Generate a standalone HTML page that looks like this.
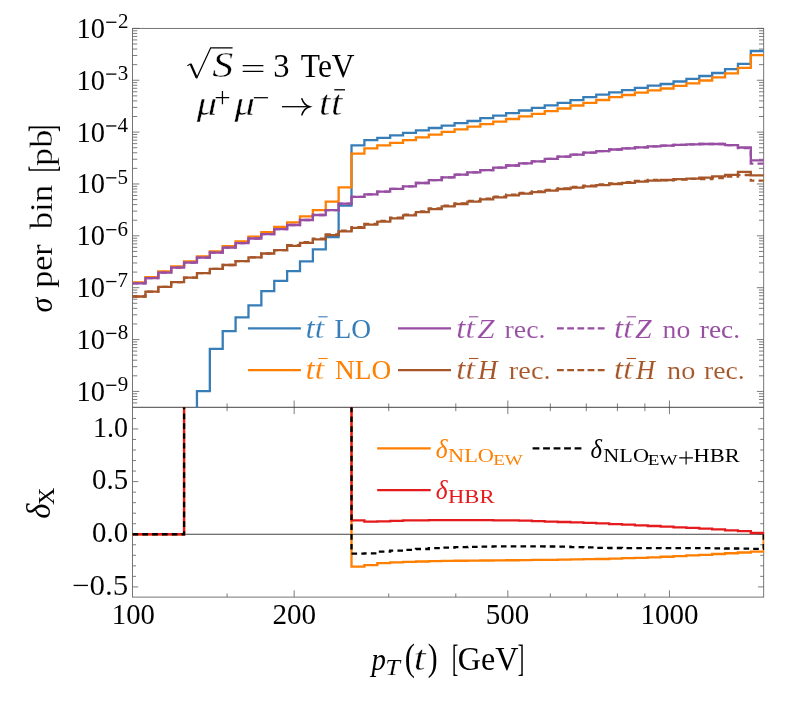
<!DOCTYPE html>
<html><head><meta charset="utf-8"><title>plot</title>
<style>html,body{margin:0;padding:0;background:#fff}svg{display:block}text{font-family:"Liberation Serif",serif}</style>
</head><body>
<svg width="797" height="707" viewBox="0 0 797 707">
<rect width="797" height="707" fill="#fff"/>
<defs><clipPath id="ct"><rect x="132.15" y="28.40" width="631.95" height="379.40"/></clipPath>
<clipPath id="cb"><rect x="132.15" y="407.30" width="631.95" height="189.80"/></clipPath></defs>
<g stroke="#7d7d7d" stroke-width="1" fill="none">
<path d="M132.55 64.65L137.25 64.65 M763.70 64.65L759.00 64.65 M132.55 55.52L137.25 55.52 M763.70 55.52L759.00 55.52 M132.55 49.04L137.25 49.04 M763.70 49.04L759.00 49.04 M132.55 44.01L137.25 44.01 M763.70 44.01L759.00 44.01 M132.55 39.91L137.25 39.91 M763.70 39.91L759.00 39.91 M132.55 36.43L137.25 36.43 M763.70 36.43L759.00 36.43 M132.55 33.43L137.25 33.43 M763.70 33.43L759.00 33.43 M132.55 30.77L137.25 30.77 M763.70 30.77L759.00 30.77 M132.55 80.26L139.35 80.26 M763.70 80.26L756.90 80.26 M132.55 116.51L137.25 116.51 M763.70 116.51L759.00 116.51 M132.55 107.38L137.25 107.38 M763.70 107.38L759.00 107.38 M132.55 100.90L137.25 100.90 M763.70 100.90L759.00 100.90 M132.55 95.87L137.25 95.87 M763.70 95.87L759.00 95.87 M132.55 91.77L137.25 91.77 M763.70 91.77L759.00 91.77 M132.55 88.29L137.25 88.29 M763.70 88.29L759.00 88.29 M132.55 85.29L137.25 85.29 M763.70 85.29L759.00 85.29 M132.55 82.63L137.25 82.63 M763.70 82.63L759.00 82.63 M132.55 132.12L139.35 132.12 M763.70 132.12L756.90 132.12 M132.55 168.37L137.25 168.37 M763.70 168.37L759.00 168.37 M132.55 159.24L137.25 159.24 M763.70 159.24L759.00 159.24 M132.55 152.76L137.25 152.76 M763.70 152.76L759.00 152.76 M132.55 147.73L137.25 147.73 M763.70 147.73L759.00 147.73 M132.55 143.63L137.25 143.63 M763.70 143.63L759.00 143.63 M132.55 140.15L137.25 140.15 M763.70 140.15L759.00 140.15 M132.55 137.15L137.25 137.15 M763.70 137.15L759.00 137.15 M132.55 134.49L137.25 134.49 M763.70 134.49L759.00 134.49 M132.55 183.98L139.35 183.98 M763.70 183.98L756.90 183.98 M132.55 220.23L137.25 220.23 M763.70 220.23L759.00 220.23 M132.55 211.10L137.25 211.10 M763.70 211.10L759.00 211.10 M132.55 204.62L137.25 204.62 M763.70 204.62L759.00 204.62 M132.55 199.59L137.25 199.59 M763.70 199.59L759.00 199.59 M132.55 195.49L137.25 195.49 M763.70 195.49L759.00 195.49 M132.55 192.01L137.25 192.01 M763.70 192.01L759.00 192.01 M132.55 189.01L137.25 189.01 M763.70 189.01L759.00 189.01 M132.55 186.35L137.25 186.35 M763.70 186.35L759.00 186.35 M132.55 235.84L139.35 235.84 M763.70 235.84L756.90 235.84 M132.55 272.09L137.25 272.09 M763.70 272.09L759.00 272.09 M132.55 262.96L137.25 262.96 M763.70 262.96L759.00 262.96 M132.55 256.48L137.25 256.48 M763.70 256.48L759.00 256.48 M132.55 251.45L137.25 251.45 M763.70 251.45L759.00 251.45 M132.55 247.35L137.25 247.35 M763.70 247.35L759.00 247.35 M132.55 243.87L137.25 243.87 M763.70 243.87L759.00 243.87 M132.55 240.87L137.25 240.87 M763.70 240.87L759.00 240.87 M132.55 238.21L137.25 238.21 M763.70 238.21L759.00 238.21 M132.55 287.70L139.35 287.70 M763.70 287.70L756.90 287.70 M132.55 323.95L137.25 323.95 M763.70 323.95L759.00 323.95 M132.55 314.82L137.25 314.82 M763.70 314.82L759.00 314.82 M132.55 308.34L137.25 308.34 M763.70 308.34L759.00 308.34 M132.55 303.31L137.25 303.31 M763.70 303.31L759.00 303.31 M132.55 299.21L137.25 299.21 M763.70 299.21L759.00 299.21 M132.55 295.73L137.25 295.73 M763.70 295.73L759.00 295.73 M132.55 292.73L137.25 292.73 M763.70 292.73L759.00 292.73 M132.55 290.07L137.25 290.07 M763.70 290.07L759.00 290.07 M132.55 339.56L139.35 339.56 M763.70 339.56L756.90 339.56 M132.55 375.81L137.25 375.81 M763.70 375.81L759.00 375.81 M132.55 366.68L137.25 366.68 M763.70 366.68L759.00 366.68 M132.55 360.20L137.25 360.20 M763.70 360.20L759.00 360.20 M132.55 355.17L137.25 355.17 M763.70 355.17L759.00 355.17 M132.55 351.07L137.25 351.07 M763.70 351.07L759.00 351.07 M132.55 347.59L137.25 347.59 M763.70 347.59L759.00 347.59 M132.55 344.59L137.25 344.59 M763.70 344.59L759.00 344.59 M132.55 341.93L137.25 341.93 M763.70 341.93L759.00 341.93 M132.55 391.42L139.35 391.42 M763.70 391.42L756.90 391.42 M132.55 402.93L137.25 402.93 M763.70 402.93L759.00 402.93 M132.55 399.45L137.25 399.45 M763.70 399.45L759.00 399.45 M132.55 396.45L137.25 396.45 M763.70 396.45L759.00 396.45 M132.55 393.79L137.25 393.79 M763.70 393.79L759.00 393.79 M132.55 28.40L139.35 28.40 M763.70 28.40L756.90 28.40 M294.17 400.50L294.17 414.10 M294.17 597.10L294.17 590.30 M507.83 400.50L507.83 414.10 M507.83 597.10L507.83 590.30 M669.45 400.50L669.45 414.10 M669.45 597.10L669.45 590.30 M227.09 403.40L227.09 411.20 M227.09 597.10L227.09 593.40 M388.72 403.40L388.72 411.20 M388.72 597.10L388.72 593.40 M455.80 403.40L455.80 411.20 M455.80 597.10L455.80 593.40 M550.34 403.40L550.34 411.20 M550.34 597.10L550.34 593.40 M586.28 403.40L586.28 411.20 M586.28 597.10L586.28 593.40 M617.42 403.40L617.42 411.20 M617.42 597.10L617.42 593.40 M644.88 403.40L644.88 411.20 M644.88 597.10L644.88 593.40 M132.55 586.90L138.25 586.90 M763.70 586.90L758.00 586.90 M132.55 576.37L136.05 576.37 M763.70 576.37L760.20 576.37 M132.55 565.84L136.05 565.84 M763.70 565.84L760.20 565.84 M132.55 555.31L136.05 555.31 M763.70 555.31L760.20 555.31 M132.55 544.78L136.05 544.78 M763.70 544.78L760.20 544.78 M132.55 534.25L138.25 534.25 M763.70 534.25L758.00 534.25 M132.55 523.72L136.05 523.72 M763.70 523.72L760.20 523.72 M132.55 513.19L136.05 513.19 M763.70 513.19L760.20 513.19 M132.55 502.66L136.05 502.66 M763.70 502.66L760.20 502.66 M132.55 492.13L136.05 492.13 M763.70 492.13L760.20 492.13 M132.55 481.60L138.25 481.60 M763.70 481.60L758.00 481.60 M132.55 471.07L136.05 471.07 M763.70 471.07L760.20 471.07 M132.55 460.54L136.05 460.54 M763.70 460.54L760.20 460.54 M132.55 450.01L136.05 450.01 M763.70 450.01L760.20 450.01 M132.55 439.48L136.05 439.48 M763.70 439.48L760.20 439.48 M132.55 428.95L138.25 428.95 M763.70 428.95L758.00 428.95 M132.55 418.42L136.05 418.42 M763.70 418.42L760.20 418.42"/>
</g>
<g stroke="#5e5e5e" stroke-width="0.85" fill="none">
<rect x="132.55" y="28.40" width="631.15" height="568.70"/>
</g>
<line x1="132.55" y1="407.30" x2="763.70" y2="407.30" stroke="#444" stroke-width="1"/>
<g clip-path="url(#ct)" fill="none" stroke-width="2.3" stroke-linejoin="miter">
<path stroke="#377eb8" d="M196.95 412.30 L196.95 391.20 H209.83 V348.90 H222.71 V331.10 H235.59 V317.30 H248.48 V305.40 H261.36 V291.10 H274.24 V280.90 H287.12 V271.20 H300.00 V261.30 H312.88 V249.40 H325.76 V237.00 H338.64 V205.70 H351.52 V145.30 H364.40 V140.20 H377.28 V137.80 H390.16 V135.40 H403.04 V132.90 H415.92 V130.40 H428.80 V128.00 H441.68 V125.70 H454.57 V123.20 H467.45 V121.00 H480.33 V118.20 H493.21 V115.60 H506.09 V113.10 H518.97 V110.50 H531.85 V107.90 H544.73 V105.40 H557.61 V102.80 H570.49 V100.20 H583.37 V97.20 H596.25 V94.70 H609.13 V92.30 H622.01 V90.10 H634.89 V87.90 H647.77 V85.70 H660.66 V84.00 H673.54 V81.50 H686.42 V78.90 H699.30 V76.00 H712.18 V73.00 H725.06 V69.20 H737.94 V63.90 H750.82 V51.00 H763.70"/>
<path stroke="#ff7f00" d="M132.55 282.30 H145.43 V277.20 H158.31 V271.50 H171.19 V266.40 H184.07 V261.40 H196.95 V256.30 H209.83 V251.30 H222.71 V246.20 H235.59 V241.50 H248.48 V236.70 H261.36 V232.10 H274.24 V227.00 H287.12 V222.40 H300.00 V216.40 H312.88 V210.10 H325.76 V201.60 H338.64 V187.30 H351.52 V153.70 H364.40 V148.30 H377.28 V145.30 H390.16 V142.80 H403.04 V140.20 H415.92 V137.30 H428.80 V134.60 H441.68 V131.90 H454.57 V129.30 H467.45 V126.70 H480.33 V124.20 H493.21 V121.60 H506.09 V119.00 H518.97 V116.40 H531.85 V113.90 H544.73 V111.20 H557.61 V108.50 H570.49 V105.50 H583.37 V102.80 H596.25 V100.00 H609.13 V97.20 H622.01 V95.00 H634.89 V92.70 H647.77 V90.30 H660.66 V88.50 H673.54 V85.80 H686.42 V83.40 H699.30 V80.50 H712.18 V77.40 H725.06 V73.40 H737.94 V67.80 H750.82 V55.10 H763.70"/>
<path stroke="#984ea3" d="M132.55 283.30 H145.43 V278.20 H158.31 V272.60 H171.19 V267.60 H184.07 V262.60 H196.95 V257.60 H209.83 V252.70 H222.71 V247.70 H235.59 V243.10 H248.48 V238.50 H261.36 V234.10 H274.24 V229.20 H287.12 V225.00 H300.00 V220.00 H312.88 V215.00 H325.76 V210.10 H338.64 V203.60 H351.52 V196.80 H364.40 V194.30 H377.28 V191.70 H390.16 V188.90 H403.04 V186.30 H415.92 V183.00 H428.80 V180.20 H441.68 V177.40 H454.57 V174.70 H467.45 V172.30 H480.33 V170.10 H493.21 V167.70 H506.09 V165.50 H518.97 V163.40 H531.85 V161.40 H544.73 V158.80 H557.61 V156.70 H570.49 V154.70 H583.37 V152.70 H596.25 V151.10 H609.13 V149.50 H622.01 V148.30 H634.89 V147.30 H647.77 V146.30 H660.66 V145.60 H673.54 V144.90 H686.42 V144.30 H699.30 V144.00 H712.18 V144.00 H725.06 V145.20 H737.94 V147.50 H750.82 V160.40 H763.70"/>
<path stroke="#a65628" d="M132.55 296.50 H145.43 V291.70 H158.31 V286.90 H171.19 V282.20 H184.07 V277.60 H196.95 V273.20 H209.83 V268.80 H222.71 V265.00 H235.59 V261.20 H248.48 V257.30 H261.36 V253.50 H274.24 V250.10 H287.12 V245.90 H300.00 V242.80 H312.88 V239.40 H325.76 V235.20 H338.64 V231.30 H351.52 V227.90 H364.40 V224.60 H377.28 V221.60 H390.16 V218.40 H403.04 V215.40 H415.92 V212.10 H428.80 V209.10 H441.68 V206.30 H454.57 V204.00 H467.45 V201.60 H480.33 V199.40 H493.21 V197.40 H506.09 V195.40 H518.97 V193.70 H531.85 V192.10 H544.73 V190.60 H557.61 V189.00 H570.49 V187.70 H583.37 V186.30 H596.25 V185.10 H609.13 V184.00 H622.01 V182.80 H634.89 V181.60 H647.77 V180.60 H660.66 V180.00 H673.54 V179.20 H686.42 V178.60 H699.30 V177.70 H712.18 V176.30 H725.06 V174.90 H737.94 V171.90 H750.82 V175.30 H763.70"/>
<path stroke="#984ea3" stroke-dasharray="5.6 4.2" d="M132.55 283.30 H145.43 V278.20 H158.31 V272.60 H171.19 V267.60 H184.07 V262.60 H196.95 V257.60 H209.83 V252.70 H222.71 V247.70 H235.59 V243.10 H248.48 V238.50 H261.36 V234.10 H274.24 V229.20 H287.12 V225.00 H300.00 V220.00 H312.88 V215.00 H325.76 V210.10 H338.64 V203.60 H351.52 V196.80 H364.40 V194.30 H377.28 V191.70 H390.16 V188.90 H403.04 V186.30 H415.92 V183.00 H428.80 V180.20 H441.68 V177.40 H454.57 V174.70 H467.45 V172.30 H480.33 V170.10 H493.21 V167.70 H506.09 V165.50 H518.97 V163.40 H531.85 V161.40 H544.73 V158.80 H557.61 V156.70 H570.49 V154.70 H583.37 V152.70 H596.25 V151.10 H609.13 V149.50 H622.01 V148.30 H634.89 V147.30 H647.77 V146.30 H660.66 V145.60 H673.54 V144.90 H686.42 V144.30 H699.30 V144.00 H712.18 V144.00 H725.06 V145.20 H737.94 V148.20 H750.82 V163.70 H763.70"/>
<path stroke="#a65628" stroke-dasharray="5.6 4.2" d="M132.55 296.50 H145.43 V291.70 H158.31 V286.90 H171.19 V282.20 H184.07 V277.60 H196.95 V273.20 H209.83 V268.80 H222.71 V265.00 H235.59 V261.20 H248.48 V257.30 H261.36 V253.50 H274.24 V250.10 H287.12 V245.20 H300.00 V242.10 H312.88 V238.70 H325.76 V234.50 H338.64 V230.60 H351.52 V227.20 H364.40 V223.90 H377.28 V220.90 H390.16 V217.70 H403.04 V214.70 H415.92 V211.40 H428.80 V208.40 H441.68 V205.60 H454.57 V203.30 H467.45 V200.90 H480.33 V198.70 H493.21 V196.70 H506.09 V194.70 H518.97 V193.00 H531.85 V191.40 H544.73 V189.90 H557.61 V188.30 H570.49 V187.00 H583.37 V185.60 H596.25 V184.40 H609.13 V183.30 H622.01 V182.10 H634.89 V180.90 H647.77 V179.90 H660.66 V180.30 H673.54 V179.50 H686.42 V178.90 H699.30 V179.20 H712.18 V178.00 H725.06 V176.70 H737.94 V175.00 H750.82 V180.70 H763.70"/>
</g>
<line x1="132.55" y1="534.25" x2="763.70" y2="534.25" stroke="#444" stroke-width="1"/>
<g clip-path="url(#cb)" fill="none" stroke-width="2.3" stroke-linejoin="miter">
<path stroke="#ff7f00" d="M132.55 534.25 H184.07 V377.30 M351.52 377.30 V566.70 H364.40 V565.20 H377.28 V563.20 H390.16 V562.40 H403.04 V561.90 H415.92 V561.50 H428.80 V561.10 H441.68 V560.90 H454.57 V560.77 H467.45 V560.65 H480.33 V560.52 H493.21 V560.40 H506.09 V560.25 H518.97 V560.10 H531.85 V559.95 H544.73 V559.80 H557.61 V559.60 H570.49 V559.40 H583.37 V559.20 H596.25 V559.00 H609.13 V558.60 H622.01 V558.20 H634.89 V557.80 H647.77 V557.40 H660.66 V556.75 H673.54 V556.10 H686.42 V555.45 H699.30 V554.80 H712.18 V554.02 H725.06 V553.25 H737.94 V552.48 H750.82 V551.70 H763.70 V534.25"/>
<path stroke="#e41a1c" d="M132.55 534.25 H184.07 V377.30 M351.52 377.30 V520.30 H364.40 V521.70 H377.28 V521.30 H390.16 V520.80 H403.04 V520.40 H415.92 V520.30 H428.80 V520.20 H441.68 V520.20 H454.57 V520.20 H467.45 V520.20 H480.33 V520.20 H493.21 V520.30 H506.09 V520.40 H518.97 V520.70 H531.85 V521.13 H544.73 V521.57 H557.61 V522.00 H570.49 V522.47 H583.37 V522.93 H596.25 V523.40 H609.13 V524.05 H622.01 V524.70 H634.89 V525.35 H647.77 V526.00 H660.66 V526.65 H673.54 V527.30 H686.42 V527.95 H699.30 V528.60 H712.18 V529.47 H725.06 V530.33 H737.94 V531.20 H750.82 V533.00 H763.70 V534.25"/>
<path stroke="#000" stroke-dasharray="5.6 4.2" d="M132.55 534.25 H184.07 V377.30 M351.52 377.30 V553.70 H364.40 V553.40 H377.28 V551.60 H390.16 V550.60 H403.04 V549.80 H415.92 V549.00 H428.80 V548.20 H441.68 V547.60 H454.57 V547.20 H467.45 V546.80 H480.33 V546.55 H493.21 V546.30 H506.09 V546.30 H518.97 V546.30 H531.85 V546.40 H544.73 V546.50 H557.61 V546.60 H570.49 V547.03 H583.37 V547.47 H596.25 V547.90 H609.13 V548.00 H622.01 V548.10 H634.89 V548.12 H647.77 V548.13 H660.66 V548.15 H673.54 V548.17 H686.42 V548.18 H699.30 V548.20 H712.18 V548.35 H725.06 V548.50 H737.94 V548.65 H750.82 V548.80 H763.70 V534.25"/>
</g>
<line x1="106.2" y1="22.25" x2="116.4" y2="22.25" stroke="#000" stroke-width="1.3"/>
<line x1="106.2" y1="74.11" x2="116.4" y2="74.11" stroke="#000" stroke-width="1.3"/>
<line x1="106.2" y1="125.97" x2="116.4" y2="125.97" stroke="#000" stroke-width="1.3"/>
<line x1="106.2" y1="177.83" x2="116.4" y2="177.83" stroke="#000" stroke-width="1.3"/>
<line x1="106.2" y1="229.69" x2="116.4" y2="229.69" stroke="#000" stroke-width="1.3"/>
<line x1="106.2" y1="281.55" x2="116.4" y2="281.55" stroke="#000" stroke-width="1.3"/>
<line x1="106.2" y1="333.41" x2="116.4" y2="333.41" stroke="#000" stroke-width="1.3"/>
<line x1="106.2" y1="385.27" x2="116.4" y2="385.27" stroke="#000" stroke-width="1.3"/>
<g fill="none" stroke-width="2.3">
<line x1="248" y1="328.4" x2="300.9" y2="328.4" stroke="#377eb8"/>
<line x1="248" y1="370.1" x2="300.9" y2="370.1" stroke="#ff7f00"/>
<line x1="398" y1="328.4" x2="451" y2="328.4" stroke="#984ea3"/>
<line x1="398" y1="370.1" x2="451" y2="370.1" stroke="#a65628"/>
<line x1="557" y1="328.4" x2="604.7" y2="328.4" stroke="#984ea3" stroke-dasharray="6.8 3.4"/>
<line x1="557" y1="370.1" x2="604.7" y2="370.1" stroke="#a65628" stroke-dasharray="6.8 3.4"/>
<line x1="377.2" y1="448.4" x2="430.7" y2="448.4" stroke="#ff7f00"/>
<line x1="377.2" y1="490.1" x2="430.7" y2="490.1" stroke="#e41a1c"/>
<line x1="532.6" y1="448.4" x2="581.7" y2="448.4" stroke="#000" stroke-dasharray="6.8 3.7"/>
</g>
<line x1="318.30" y1="316.80" x2="327.60" y2="316.80" stroke="#377eb8" stroke-width="1.1"/>
<line x1="469.00" y1="316.80" x2="478.30" y2="316.80" stroke="#984ea3" stroke-width="1.1"/>
<line x1="626.70" y1="316.80" x2="636.00" y2="316.80" stroke="#984ea3" stroke-width="1.1"/>
<line x1="318.30" y1="358.50" x2="327.60" y2="358.50" stroke="#ff7f00" stroke-width="1.1"/>
<line x1="469.00" y1="358.50" x2="478.30" y2="358.50" stroke="#a65628" stroke-width="1.1"/>
<line x1="626.70" y1="358.50" x2="636.00" y2="358.50" stroke="#a65628" stroke-width="1.1"/>
<path d="M679.2 457.9H693M686.1 451.2V464.6" stroke="#000" stroke-width="1.15" fill="none"/>
<g stroke="#000" fill="none">
<path d="M187.3 65.9L190.6 63.7" stroke-width="1.1"/>
<path d="M190.6 63.9L196.6 77.6" stroke-width="2.3"/>
<path d="M196.5 78.6L210.7 47.8H232.6" stroke-width="1.25" stroke-linejoin="miter"/>
<path d="M242.7 65.7H263.4M242.7 71.4H263.4" stroke-width="1.3"/>
<path d="M215.7 97.7H229.2M222.45 91V104.3" stroke-width="1.25"/>
<path d="M253.9 97.7H267.9" stroke-width="1.25"/>
<path d="M282 106.7H309.3" stroke-width="1.3"/>
<path d="M301.9 98.7C303.2 103.0 305.8 105.6 309.8 106.7C305.8 107.8 303.2 110.4 301.9 114.9" stroke-width="1.5" stroke-linecap="round"/>
<path d="M334.3 89.8H345" stroke-width="1.3"/>
</g>
<g style="will-change:transform">
<text transform="translate(76.48,37.85) scale(0.9801,1.000)" style="font-size:29px;font-family:'Liberation Serif',serif" fill="#000">10</text>
<text transform="translate(117.94,28.15) scale(1.0000,1.000)" style="font-size:21px;font-family:'Liberation Serif',serif" fill="#000">2</text>
<text transform="translate(76.48,89.71) scale(0.9801,1.000)" style="font-size:29px;font-family:'Liberation Serif',serif" fill="#000">10</text>
<text transform="translate(117.87,80.01) scale(1.0000,1.000)" style="font-size:21px;font-family:'Liberation Serif',serif" fill="#000">3</text>
<text transform="translate(76.48,141.57) scale(0.9801,1.000)" style="font-size:29px;font-family:'Liberation Serif',serif" fill="#000">10</text>
<text transform="translate(117.54,131.87) scale(1.0000,1.000)" style="font-size:21px;font-family:'Liberation Serif',serif" fill="#000">4</text>
<text transform="translate(76.48,193.43) scale(0.9801,1.000)" style="font-size:29px;font-family:'Liberation Serif',serif" fill="#000">10</text>
<text transform="translate(117.58,183.73) scale(1.0000,1.000)" style="font-size:21px;font-family:'Liberation Serif',serif" fill="#000">5</text>
<text transform="translate(76.48,245.29) scale(0.9801,1.000)" style="font-size:29px;font-family:'Liberation Serif',serif" fill="#000">10</text>
<text transform="translate(117.51,235.59) scale(1.0000,1.000)" style="font-size:21px;font-family:'Liberation Serif',serif" fill="#000">6</text>
<text transform="translate(76.48,297.15) scale(0.9801,1.000)" style="font-size:29px;font-family:'Liberation Serif',serif" fill="#000">10</text>
<text transform="translate(117.61,287.45) scale(1.0000,1.000)" style="font-size:21px;font-family:'Liberation Serif',serif" fill="#000">7</text>
<text transform="translate(76.48,349.01) scale(0.9801,1.000)" style="font-size:29px;font-family:'Liberation Serif',serif" fill="#000">10</text>
<text transform="translate(117.86,339.31) scale(1.0000,1.000)" style="font-size:21px;font-family:'Liberation Serif',serif" fill="#000">8</text>
<text transform="translate(76.48,400.87) scale(0.9801,1.000)" style="font-size:29px;font-family:'Liberation Serif',serif" fill="#000">10</text>
<text transform="translate(117.87,391.17) scale(1.0000,1.000)" style="font-size:21px;font-family:'Liberation Serif',serif" fill="#000">9</text>
<text transform="translate(93.02,436.55) scale(0.9663,1.000)" style="font-size:29px;font-family:'Liberation Serif',serif" fill="#000">1.0</text>
<text transform="translate(92.06,489.20) scale(0.9942,1.000)" style="font-size:29px;font-family:'Liberation Serif',serif" fill="#000">0.5</text>
<text transform="translate(92.06,541.85) scale(0.9937,1.000)" style="font-size:29px;font-family:'Liberation Serif',serif" fill="#000">0.0</text>
<text transform="translate(72.00,594.50) scale(1.0729,1.000)" style="font-size:29px;font-family:'Liberation Serif',serif" fill="#000" stroke="#fff" stroke-width="0.11">−0.5</text>
<text transform="translate(111.86,623.60) scale(0.9895,1.000)" style="font-size:29px;font-family:'Liberation Serif',serif" fill="#000">100</text>
<text transform="translate(272.45,623.60) scale(1.0039,1.000)" style="font-size:29px;font-family:'Liberation Serif',serif" fill="#000">200</text>
<text transform="translate(485.83,623.60) scale(1.0000,1.000)" style="font-size:29px;font-family:'Liberation Serif',serif" fill="#000">500</text>
<text transform="translate(640.43,623.60) scale(1.0000,1.000)" style="font-size:29px;font-family:'Liberation Serif',serif" fill="#000">1000</text>
<text transform="translate(51.60,312.59) rotate(-90) scale(0.9753,1.000)" style="font-size:31px;font-family:'Liberation Serif',serif;font-style:italic" fill="#000">σ</text>
<text transform="translate(51.60,287.73) rotate(-90) scale(1.0972,1.000)" style="font-size:31px;font-family:'Liberation Serif',serif" fill="#000" stroke="#fff" stroke-width="0.16">per</text>
<text transform="translate(51.60,229.34) rotate(-90) scale(1.1259,1.000)" style="font-size:31px;font-family:'Liberation Serif',serif" fill="#000" stroke="#fff" stroke-width="0.20">bin</text>
<text transform="translate(55.43,172.13) rotate(-90) scale(0.6282,1.219)" style="font-size:31px;font-family:'Liberation Serif',serif" fill="#000">[</text>
<text transform="translate(51.60,165.88) rotate(-90) scale(1.1740,1.000)" style="font-size:31px;font-family:'Liberation Serif',serif" fill="#000" stroke="#fff" stroke-width="0.28">pb</text>
<text transform="translate(55.43,131.91) rotate(-90) scale(0.6732,1.218)" style="font-size:31px;font-family:'Liberation Serif',serif" fill="#000">]</text>
<text transform="translate(49.50,518.82) rotate(-90) scale(0.9849,1.000)" style="font-size:33px;font-family:'Liberation Serif',serif;font-style:italic" fill="#000">δ</text>
<text transform="translate(54.10,505.01) rotate(-90) scale(1.0570,1.000)" style="font-size:23px;font-family:'Liberation Serif',serif" fill="#000">X</text>
<text transform="translate(371.53,670.20) scale(0.8982,1.000)" style="font-size:32px;font-family:'Liberation Serif',serif;font-style:italic" fill="#000">p</text>
<text transform="translate(385.13,674.80) scale(1.1043,1.000)" style="font-size:24px;font-family:'Liberation Serif',serif;font-style:italic" fill="#000" stroke="#fff" stroke-width="0.13">T</text>
<text transform="translate(404.79,670.32) scale(0.9614,1.162)" style="font-size:32px;font-family:'Liberation Serif',serif" fill="#000">(</text>
<text transform="translate(413.74,669.90) scale(1.1591,1.000)" style="font-size:36.5px;font-family:'Liberation Serif',serif;font-style:italic" fill="#000" stroke="#fff" stroke-width="0.45">t</text>
<text transform="translate(427.77,670.32) scale(0.9262,1.162)" style="font-size:32px;font-family:'Liberation Serif',serif" fill="#000">)</text>
<text transform="translate(452.07,671.41) scale(0.5712,1.118)" style="font-size:33px;font-family:'Liberation Serif',serif" fill="#000">[</text>
<text transform="translate(457.79,670.20) scale(0.9709,1.000)" style="font-size:33px;font-family:'Liberation Serif',serif" fill="#000">GeV</text>
<text transform="translate(517.78,671.41) scale(0.5892,1.118)" style="font-size:33px;font-family:'Liberation Serif',serif" fill="#000">]</text>
<text transform="translate(212.31,77.40) scale(1.1489,1.000)" style="font-size:36.5px;font-family:'Liberation Serif',serif;font-style:italic" fill="#000" stroke="#fff" stroke-width="0.40">S</text>
<text transform="translate(273.25,77.00) scale(0.9860,1.000)" style="font-size:33px;font-family:'Liberation Serif',serif" fill="#000">3</text>
<text transform="translate(300.85,76.70) scale(0.9543,1.000)" style="font-size:33px;font-family:'Liberation Serif',serif" fill="#000">TeV</text>
<text transform="translate(196.82,115.10) scale(1.1905,1.000)" style="font-size:34px;font-family:'Liberation Serif',serif;font-style:italic" fill="#000" stroke="#fff" stroke-width="0.33">μ</text>
<text transform="translate(234.42,115.10) scale(1.1905,1.000)" style="font-size:34px;font-family:'Liberation Serif',serif;font-style:italic" fill="#000" stroke="#fff" stroke-width="0.33">μ</text>
<text transform="translate(319.02,115.30) scale(1.1137,1.000)" style="font-size:36.5px;font-family:'Liberation Serif',serif;font-style:italic" fill="#000" stroke="#fff" stroke-width="0.45">t</text>
<text transform="translate(331.02,115.30) scale(1.1137,1.000)" style="font-size:36.5px;font-family:'Liberation Serif',serif;font-style:italic" fill="#000" stroke="#fff" stroke-width="0.45">t</text>
<text transform="translate(305.57,337.60) scale(1.1153,1.000)" style="font-size:29.5px;font-family:'Liberation Serif',serif;font-style:italic" fill="#377eb8" stroke="#fff" stroke-width="0.18">t</text>
<text transform="translate(314.61,337.60) scale(1.2033,1.000)" style="font-size:29.5px;font-family:'Liberation Serif',serif;font-style:italic" fill="#377eb8" stroke="#fff" stroke-width="0.31">t</text>
<text transform="translate(456.27,337.60) scale(1.1153,1.000)" style="font-size:29.5px;font-family:'Liberation Serif',serif;font-style:italic" fill="#984ea3" stroke="#fff" stroke-width="0.18">t</text>
<text transform="translate(465.31,337.60) scale(1.2033,1.000)" style="font-size:29.5px;font-family:'Liberation Serif',serif;font-style:italic" fill="#984ea3" stroke="#fff" stroke-width="0.31">t</text>
<text transform="translate(613.97,337.60) scale(1.1153,1.000)" style="font-size:29.5px;font-family:'Liberation Serif',serif;font-style:italic" fill="#984ea3" stroke="#fff" stroke-width="0.18">t</text>
<text transform="translate(623.01,337.60) scale(1.2033,1.000)" style="font-size:29.5px;font-family:'Liberation Serif',serif;font-style:italic" fill="#984ea3" stroke="#fff" stroke-width="0.31">t</text>
<text transform="translate(305.57,379.30) scale(1.1153,1.000)" style="font-size:29.5px;font-family:'Liberation Serif',serif;font-style:italic" fill="#ff7f00" stroke="#fff" stroke-width="0.18">t</text>
<text transform="translate(314.61,379.30) scale(1.2033,1.000)" style="font-size:29.5px;font-family:'Liberation Serif',serif;font-style:italic" fill="#ff7f00" stroke="#fff" stroke-width="0.31">t</text>
<text transform="translate(456.27,379.30) scale(1.1153,1.000)" style="font-size:29.5px;font-family:'Liberation Serif',serif;font-style:italic" fill="#a65628" stroke="#fff" stroke-width="0.18">t</text>
<text transform="translate(465.31,379.30) scale(1.2033,1.000)" style="font-size:29.5px;font-family:'Liberation Serif',serif;font-style:italic" fill="#a65628" stroke="#fff" stroke-width="0.31">t</text>
<text transform="translate(613.97,379.30) scale(1.1153,1.000)" style="font-size:29.5px;font-family:'Liberation Serif',serif;font-style:italic" fill="#a65628" stroke="#fff" stroke-width="0.18">t</text>
<text transform="translate(623.01,379.30) scale(1.2033,1.000)" style="font-size:29.5px;font-family:'Liberation Serif',serif;font-style:italic" fill="#a65628" stroke="#fff" stroke-width="0.31">t</text>
<text transform="translate(334.50,337.60) scale(0.9991,1.000)" style="font-size:27.5px;font-family:'Liberation Serif',serif" fill="#377eb8">LO</text>
<text transform="translate(335.11,379.30) scale(0.9939,1.000)" style="font-size:27.5px;font-family:'Liberation Serif',serif" fill="#ff7f00">NLO</text>
<text transform="translate(477.33,337.60) scale(1.1347,1.000)" style="font-size:27.5px;font-family:'Liberation Serif',serif;font-style:italic" fill="#984ea3" stroke="#fff" stroke-width="0.19">Z</text>
<text transform="translate(504.58,337.60) scale(1.0730,1.000)" style="font-size:26px;font-family:'Liberation Serif',serif" fill="#984ea3" stroke="#fff" stroke-width="0.10">rec.</text>
<text transform="translate(478.00,379.30) scale(0.9815,1.000)" style="font-size:27.5px;font-family:'Liberation Serif',serif;font-style:italic" fill="#a65628">H</text>
<text transform="translate(508.87,379.30) scale(1.0927,1.000)" style="font-size:26px;font-family:'Liberation Serif',serif" fill="#a65628" stroke="#fff" stroke-width="0.12">rec.</text>
<text transform="translate(635.06,337.60) scale(1.0865,1.000)" style="font-size:27.5px;font-family:'Liberation Serif',serif;font-style:italic" fill="#984ea3" stroke="#fff" stroke-width="0.12">Z</text>
<text transform="translate(662.55,337.60) scale(1.0654,1.000)" style="font-size:26px;font-family:'Liberation Serif',serif" fill="#984ea3" stroke="#fff" stroke-width="0.09">no</text>
<text transform="translate(699.79,337.60) scale(1.0561,1.000)" style="font-size:26px;font-family:'Liberation Serif',serif" fill="#984ea3">rec.</text>
<text transform="translate(636.00,379.30) scale(0.9577,1.000)" style="font-size:27.5px;font-family:'Liberation Serif',serif;font-style:italic" fill="#a65628">H</text>
<text transform="translate(667.03,379.30) scale(1.0859,1.000)" style="font-size:26px;font-family:'Liberation Serif',serif" fill="#a65628" stroke="#fff" stroke-width="0.12">no</text>
<text transform="translate(703.99,379.30) scale(1.0646,1.000)" style="font-size:26px;font-family:'Liberation Serif',serif" fill="#a65628" stroke="#fff" stroke-width="0.09">rec.</text>
<text transform="translate(435.68,457.60) scale(0.9414,1.000)" style="font-size:27px;font-family:'Liberation Serif',serif;font-style:italic" fill="#ff7f00">δ</text>
<text transform="translate(448.01,461.50) scale(1.2422,1.000)" style="font-size:18px;font-family:'Liberation Serif',serif" fill="#ff7f00">NLO</text>
<text transform="translate(493.16,464.50) scale(1.2289,1.000)" style="font-size:15.5px;font-family:'Liberation Serif',serif" fill="#ff7f00">EW</text>
<text transform="translate(435.68,499.30) scale(0.9414,1.000)" style="font-size:27px;font-family:'Liberation Serif',serif;font-style:italic" fill="#e41a1c">δ</text>
<text transform="translate(448.00,502.90) scale(1.2566,1.000)" style="font-size:18px;font-family:'Liberation Serif',serif" fill="#e41a1c">HBR</text>
<text transform="translate(590.60,457.60) scale(0.9153,1.000)" style="font-size:27px;font-family:'Liberation Serif',serif;font-style:italic" fill="#000">δ</text>
<text transform="translate(603.32,461.50) scale(1.2338,1.000)" style="font-size:18px;font-family:'Liberation Serif',serif" fill="#000">NLO</text>
<text transform="translate(647.85,464.50) scale(1.2334,1.000)" style="font-size:15.5px;font-family:'Liberation Serif',serif" fill="#000">EW</text>
<text transform="translate(693.61,461.50) scale(1.2454,1.000)" style="font-size:18px;font-family:'Liberation Serif',serif" fill="#000">HBR</text>
</g>
</svg>
</body></html>
